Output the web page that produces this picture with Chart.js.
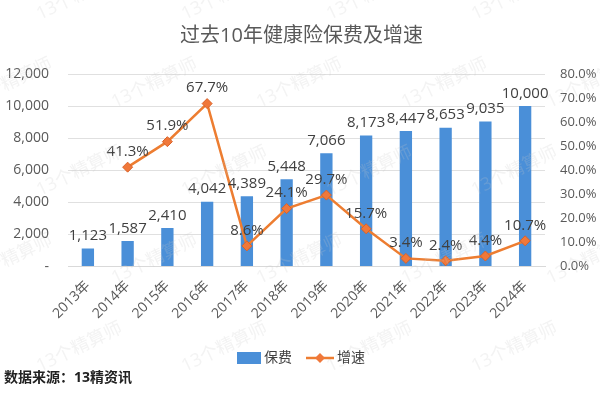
<!DOCTYPE html>
<html>
<head>
<meta charset="utf-8">
<script src="https://cdn.jsdelivr.net/npm/chart.js@4"></script>
<style>
  html, body { margin: 0; padding: 0; background: #fff; }
  #wrap { width: 600px; height: 393px; position: relative; }
</style>
</head>
<body>
<div id="wrap"><canvas id="chart"></canvas></div>
<script>
const years = ['2013年', '2014年', '2015年', '2016年', '2017年', '2018年', '2019年', '2020年', '2021年', '2022年', '2023年', '2024年'];
const premiums = [1123, 1587, 2410, 4042, 4389, 5448, 7066, 8173, 8447, 8653, 9035, 10000];
const growth = [null, 41.3, 51.9, 67.7, 8.6, 24.1, 29.7, 15.7, 3.4, 2.4, 4.4, 10.7];

const FONT = "'Open Sans', 'Noto Sans CJK SC', sans-serif";
const BLUE = '#4a8fd8';
const ORANGE = '#ed7d31';

// value labels above bars and points
const labelPlugin = {
    id: 'valueLabels',
    afterDatasetsDraw(chart) {
        const ctx = chart.ctx;
        ctx.save();
        ctx.font = '15px ' + FONT;
        ctx.fillStyle = '#404040';
        ctx.textAlign = 'center';
        ctx.textBaseline = 'bottom';
        chart.getDatasetMeta(0).data.forEach((bar, i) => {
            ctx.fillText(premiums[i].toLocaleString('en-US'), bar.x, bar.y - 5);
        });
        chart.getDatasetMeta(1).data.forEach((pt, i) => {
            if (growth[i] === null) return;
            ctx.fillText(growth[i].toFixed(1) + '%', pt.x, pt.y - 8);
        });
        ctx.restore();
    }
};

// watermark, legend and source note
const extrasPlugin = {
    id: 'extras',
    afterDraw(chart) {
        const ctx = chart.ctx;
        ctx.save();
        ctx.font = '18px ' + FONT;
        ctx.fillStyle = 'rgba(200,200,200,0.22)';
        for (let row = 0; row < 5; row++) {
            for (let col = 0; col < 5; col++) {
                ctx.save();
                ctx.translate(40 + col * 145 - (row % 2) * 70, 20 + row * 88);
                ctx.rotate(-Math.PI / 7);
                ctx.fillText('13个精算师', 0, 0);
                ctx.restore();
            }
        }

        // legend
        const ly = 358;
        ctx.fillStyle = BLUE;
        ctx.fillRect(237, ly - 6, 24, 12);
        ctx.font = '14px ' + FONT;
        ctx.fillStyle = '#404040';
        ctx.textBaseline = 'middle';
        ctx.fillText('保费', 264, ly);
        ctx.strokeStyle = ORANGE;
        ctx.lineWidth = 2.5;
        ctx.beginPath();
        ctx.moveTo(306, ly);
        ctx.lineTo(334, ly);
        ctx.stroke();
        ctx.fillStyle = '#f0783a';
        ctx.beginPath();
        ctx.moveTo(320, ly - 5);
        ctx.lineTo(325, ly);
        ctx.lineTo(320, ly + 5);
        ctx.lineTo(315, ly);
        ctx.closePath();
        ctx.fill();
        ctx.fillStyle = '#404040';
        ctx.fillText('增速', 337, ly);

        ctx.font = 'bold 14px ' + FONT;
        ctx.fillStyle = '#222';
        ctx.fillText('数据来源：13精资讯', 4, 378);
        ctx.restore();
    }
};

new Chart(document.getElementById('chart'), {
    data: {
        labels: years,
        datasets: [
            {
                type: 'bar',
                label: '保费',
                data: premiums,
                backgroundColor: BLUE,
                yAxisID: 'y',
                categoryPercentage: 1,
                barPercentage: 0.31,
                order: 2
            },
            {
                type: 'line',
                label: '增速',
                data: growth,
                borderColor: ORANGE,
                backgroundColor: ORANGE,
                borderWidth: 2.5,
                pointStyle: 'rectRot',
                pointRadius: 5,
                pointBackgroundColor: '#f0783a',
                pointBorderColor: '#d9622a',
                pointBorderWidth: 1,
                yAxisID: 'y1',
                order: 1
            }
        ]
    },
    options: {
        responsive: true,
        maintainAspectRatio: false,
        animation: false,
        layout: { padding: { left: 4, right: 1, top: 0, bottom: 68 } },
        plugins: {
            title: {
                display: true,
                text: '过去10年健康险保费及增速',
                color: '#595959',
                font: { family: FONT, size: 20, weight: 'normal' },
                padding: { top: 24, bottom: 26 }
            },
            legend: { display: false },
            tooltip: { enabled: false }
        },
        scales: {
            x: {
                grid: { display: false },
                border: { color: '#d9d9d9' },
                afterFit(scale) {
                    scale.paddingLeft = 0;
                    scale.paddingRight = 0;
                },
                ticks: {
                    color: '#595959',
                    font: { family: FONT, size: 14 },
                    minRotation: 45,
                    maxRotation: 45
                }
            },
            y: {
                position: 'left',
                min: 0,
                max: 12000,
                grid: { color: '#e0e0e0', drawTicks: false },
                border: { display: false },
                afterFit(scale) { scale.width = 64; },
                ticks: {
                    stepSize: 2000,
                    color: '#595959',
                    font: { family: FONT, size: 14 },
                    padding: 19,
                    callback: v => v === 0 ? '-' : v.toLocaleString('en-US')
                }
            },
            y1: {
                position: 'right',
                min: 0,
                max: 80,
                grid: { display: false, drawTicks: false },
                border: { display: false },
                afterFit(scale) { scale.width = 54; },
                ticks: {
                    stepSize: 10,
                    color: '#595959',
                    font: { family: FONT, size: 13 },
                    padding: 15,
                    callback: v => v.toFixed(1) + '%'
                }
            }
        }
    },
    plugins: [labelPlugin, extrasPlugin]
});
</script>
</body>
</html>
